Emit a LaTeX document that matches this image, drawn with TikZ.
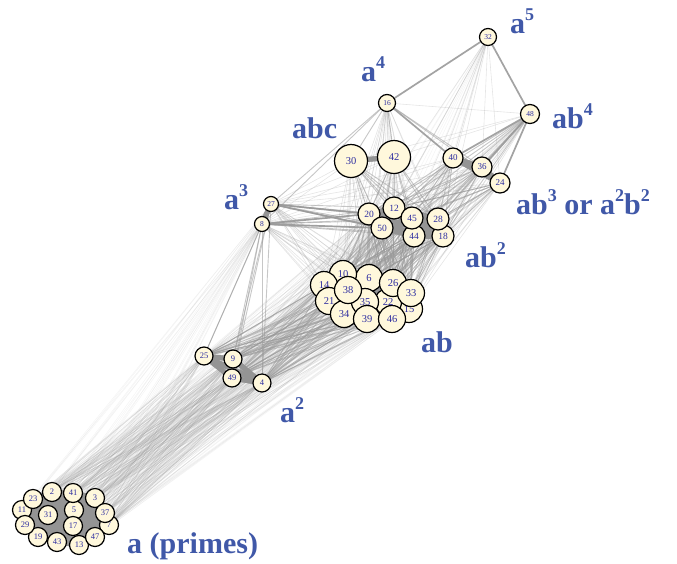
\documentclass[tikz,border=0pt]{standalone}
\usepackage{fontspec}
\setmainfont{Liberation Serif}
\usetikzlibrary{backgrounds}
\definecolor{node_fill}{RGB}{255,248,220}
\definecolor{node_text}{RGB}{45,45,160}
\definecolor{label_blue}{RGB}{64,88,168}
\colorlet{edge_gray}{black!40}
\newcommand{\sups}[1]{\raisebox{13pt}{\fontsize{18}{18}\selectfont #1}}
\newcommand{\grpPrime}{2,3,5,7,11,13,17,19,23,29,31,37,41,43,47}
\newcommand{\grpAsq}{4,9,25,49}
\newcommand{\grpAcube}{8,27}
\newcommand{\grpABone}{6,10,14,15,21,22,26,33,34,35,38,39,46}
\newcommand{\grpABtwo}{12,18,20,28,44,45,50}
\newcommand{\grpABthree}{24,36,40}
\newcommand{\grpABC}{30,42}
\newcommand{\linkgroups}[3]{%
  \foreach \u in #2 {\foreach \v in #3 {\draw[#1] (n\u.center) -- (n\v.center);}}}
\tikzset{
    num/.style={circle,draw=black,line width=1.2pt,fill=node_fill,text=node_text,inner sep=0pt},
    prime_node/.style={num,minimum size=19pt,font=\fontsize{8.5}{8.5}\selectfont},
    sq_node/.style={num,minimum size=18pt,font=\fontsize{8.5}{8.5}\selectfont},
    tiny_node/.style={num,minimum size=15pt,font=\fontsize{7.5}{7.5}\selectfont},
    small_node/.style={num,minimum size=17pt,font=\fontsize{7.5}{7.5}\selectfont},
    ab_node/.style={num,minimum size=27pt,font=\fontsize{10.5}{10.5}\selectfont},
    abtwo_node/.style={num,minimum size=22pt,font=\fontsize{9.5}{9.5}\selectfont},
    abthree_node/.style={num,minimum size=20pt,font=\fontsize{9}{9}\selectfont},
    abc_node/.style={num,minimum size=33pt,font=\fontsize{10.5}{10.5}\selectfont},
    grp_label/.style={text=label_blue,font=\fontsize{30}{30}\selectfont\bfseries,inner sep=0pt,anchor=base west},
    edge_faint/.style={edge_gray,line width=0.5pt,opacity=0.11},
    edge_light/.style={edge_gray,line width=0.6pt,opacity=0.25},
    edge_mid/.style={edge_gray,line width=0.9pt,opacity=0.55},
    edge_strong/.style={edge_gray,line width=1.7pt,opacity=0.9},
    edge_intra/.style={black!42,line width=5pt,line cap=round},
}
\begin{document}
\begin{tikzpicture}[x=1pt,y=-1pt]
  \useasboundingbox (0,0) rectangle (677,563);
  % primes
  \node[prime_node] (n2) at (52,492) {2};
  \node[prime_node] (n3) at (95,498) {3};
  \node[prime_node] (n5) at (74,510) {5};
  \node[prime_node] (n7) at (109,525) {7};
  \node[prime_node] (n11) at (22,510) {11};
  \node[prime_node] (n13) at (79,545) {13};
  \node[prime_node] (n17) at (73,526) {17};
  \node[prime_node] (n19) at (38,537) {19};
  \node[prime_node] (n23) at (33,499) {23};
  \node[prime_node] (n29) at (25,525) {29};
  \node[prime_node] (n31) at (48,515) {31};
  \node[prime_node] (n37) at (105,513) {37};
  \node[prime_node] (n41) at (73,493) {41};
  \node[prime_node] (n43) at (57,542) {43};
  \node[prime_node] (n47) at (95,537) {47};
  % squares and cubes of primes
  \node[sq_node] (n4) at (262,383) {4};
  \node[sq_node] (n9) at (233,359) {9};
  \node[sq_node] (n25) at (204,356) {25};
  \node[sq_node] (n49) at (232,378) {49};
  \node[tiny_node] (n8) at (262,224) {8};
  \node[tiny_node] (n27) at (271,204) {27};
  \node[small_node] (n16) at (387,103) {16};
  \node[small_node] (n32) at (488,37) {32};
  \node[num,minimum size=19pt,font=\fontsize{7.5}{7.5}\selectfont] (n48) at (530,114) {48};
  % ab
  \node[ab_node] (n6) at (369,278) {6};
  \node[ab_node] (n10) at (343,274) {10};
  \node[ab_node] (n14) at (324,285) {14};
  \node[ab_node] (n15) at (409,309) {15};
  \node[ab_node] (n21) at (329,301) {21};
  \node[ab_node] (n22) at (388,302) {22};
  \node[ab_node] (n26) at (393,283) {26};
  \node[ab_node] (n33) at (411,293) {33};
  \node[ab_node] (n34) at (344,314) {34};
  \node[ab_node] (n35) at (365,302) {35};
  \node[ab_node] (n38) at (348,290) {38};
  \node[ab_node] (n39) at (367,319) {39};
  \node[ab_node] (n46) at (392,319) {46};
  % ab^2
  \node[abtwo_node] (n12) at (394,208) {12};
  \node[abtwo_node] (n18) at (443,236) {18};
  \node[abtwo_node] (n20) at (369,214) {20};
  \node[abtwo_node] (n28) at (438,219) {28};
  \node[abtwo_node] (n44) at (414,236) {44};
  \node[abtwo_node] (n45) at (412,218) {45};
  \node[abtwo_node] (n50) at (382,228) {50};
  % ab^3, a^2b^2 and abc
  \node[abthree_node] (n24) at (500,183) {24};
  \node[abthree_node] (n36) at (482,167) {36};
  \node[abthree_node] (n40) at (453,158) {40};
  \node[abc_node] (n30) at (351,161) {30};
  \node[abc_node] (n42) at (394,157) {42};

  \begin{scope}[on background layer]
    % faint fans
    \linkgroups{edge_faint}{\grpPrime}{\grpABone}
    \linkgroups{edge_faint}{\grpPrime}{\grpAcube}
    \linkgroups{edge_faint}{\grpPrime}{\grpABtwo}
    \linkgroups{edge_faint}{{32}}{\grpABone}
    % light edges
    \linkgroups{edge_light}{\grpPrime}{\grpAsq}
    \linkgroups{edge_light}{\grpAsq}{\grpABtwo}
    \linkgroups{edge_light}{\grpAcube}{\grpABone}
    \linkgroups{edge_light}{\grpAcube}{\grpABthree}
    \linkgroups{edge_light}{\grpAcube}{\grpABC}
    \linkgroups{edge_light}{\grpABC}{\grpABone}
    \linkgroups{edge_light}{\grpABthree}{\grpABone}
    \linkgroups{edge_light}{{16,48}}{\grpABone}
    \linkgroups{edge_light}{{16,32}}{\grpABtwo}
    \linkgroups{edge_light}{{32}}{\grpABthree}
    \linkgroups{edge_light}{{48}}{\grpABC}
    \linkgroups{edge_light}{{16}}{{48}}
    % mid edges
    \linkgroups{edge_mid}{\grpAsq}{\grpABone}
    \linkgroups{edge_mid}{\grpAsq}{\grpAcube}
    \linkgroups{edge_mid}{\grpAcube}{\grpABtwo}
    \linkgroups{edge_mid}{\grpABone}{\grpABtwo}
    \linkgroups{edge_mid}{\grpABC}{\grpABtwo}
    \linkgroups{edge_mid}{\grpABthree}{\grpABtwo}
    \linkgroups{edge_mid}{{48}}{\grpABtwo}
    \linkgroups{edge_mid}{{16}}{\grpABC}
    \linkgroups{edge_mid}{{16}}{\grpAcube}
    \linkgroups{edge_mid}{{16}}{{36,24}}
    % strong edges
    \linkgroups{edge_strong}{{32}}{{16,48}}
    \linkgroups{edge_strong}{{16}}{{40}}
    \linkgroups{edge_strong}{{48}}{\grpABthree}
    \linkgroups{edge_strong}{\grpAcube}{{20,50}}
    % inside each group
    \linkgroups{edge_intra}{\grpPrime}{\grpPrime}
    \linkgroups{edge_intra}{\grpAsq}{\grpAsq}
    \linkgroups{edge_intra}{\grpAcube}{\grpAcube}
    \linkgroups{edge_intra}{\grpABone}{\grpABone}
    \linkgroups{edge_intra}{\grpABtwo}{\grpABtwo}
    \linkgroups{edge_intra}{\grpABthree}{\grpABthree}
    \linkgroups{edge_intra}{\grpABC}{\grpABC}
  \end{scope}

  % group labels
  \node[grp_label] (lab_a5) at (510,33) {a\sups{5}};
  \node[grp_label] (lab_a4) at (361,81) {a\sups{4}};
  \node[grp_label] (lab_abc) at (292,138) {abc};
  \node[grp_label] (lab_ab4) at (552,128) {ab\sups{4}};
  \node[grp_label] (lab_a3) at (224,209) {a\sups{3}};
  \node[grp_label] (lab_ab3) at (516,214) {ab\sups{3} or a\sups{2}b\sups{2}};
  \node[grp_label] (lab_ab2) at (465,267) {ab\sups{2}};
  \node[grp_label] (lab_ab) at (421,352) {ab};
  \node[grp_label] (lab_a2) at (280,422) {a\sups{2}};
  \node[grp_label] (lab_a) at (127,553) {a (primes)};
\end{tikzpicture}
\end{document}
